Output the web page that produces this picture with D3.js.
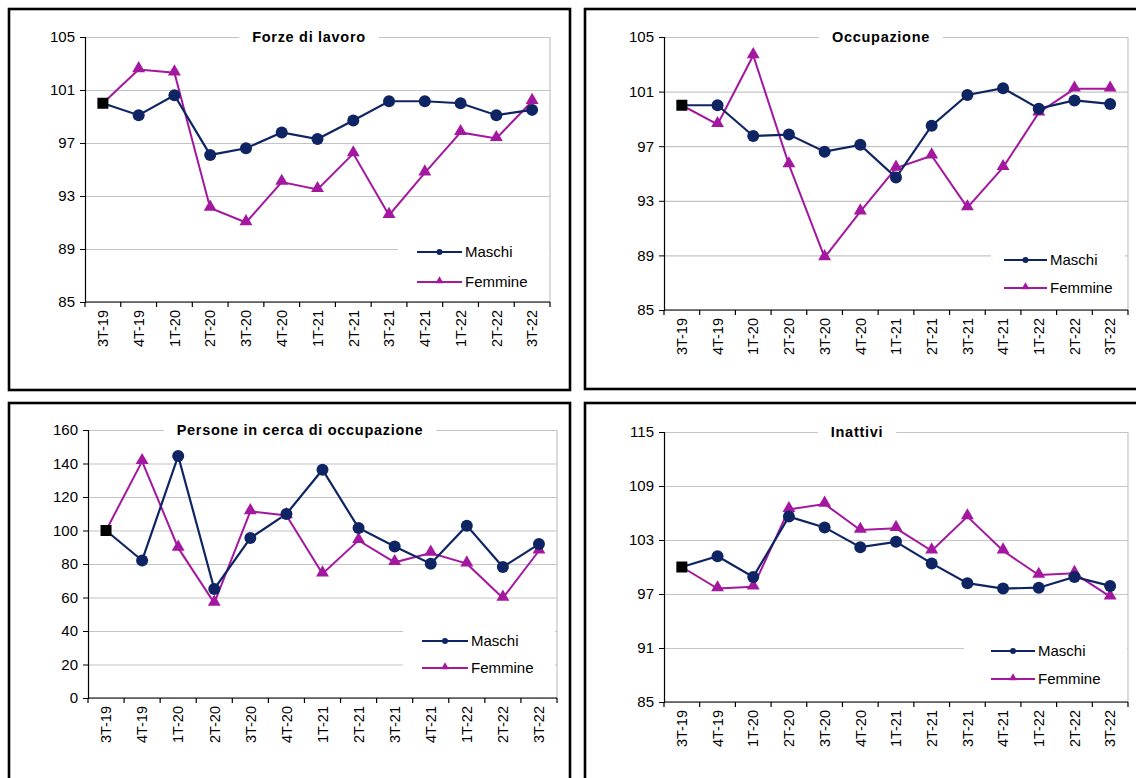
<!DOCTYPE html>
<html lang="it">
<head>
<meta charset="utf-8">
<title>Indici per sesso</title>
<script src="https://cdn.jsdelivr.net/npm/d3@7"></script>
<style>
	body { margin: 0; background: #fff; }
	svg { display: block; font-family: "Liberation Sans", Arial, sans-serif; }
</style>
</head>
<body>
<svg width="1136" height="778"></svg>
<script>
	// trimestri
	var quarters = ["3T-19","4T-19","1T-20","2T-20","3T-20","4T-20","1T-21","2T-21","3T-21","4T-21","1T-22","2T-22","3T-22"];

	// Forze di lavoro
	var forzeMaschi  = [100, 99.1, 100.6, 96.1, 96.6, 97.8, 97.3, 98.7, 100.15, 100.15, 100.0, 99.1, 99.5];
	var forzeFemmine = [100, 102.55, 102.3, 92.1, 91.0, 94.05, 93.5, 96.2, 91.55, 94.75, 97.8, 97.35, 100.15];
	var forzeTicks = [85, 89, 93, 97, 101, 105];

	// Occupazione
	var occMaschi  = [100, 100.0, 97.75, 97.85, 96.6, 97.1, 94.7, 98.5, 100.75, 101.25, 99.75, 100.35, 100.1];
	var occFemmine = [100, 98.6, 103.65, 95.65, 88.85, 92.2, 95.4, 96.3, 92.5, 95.45, 99.45, 101.2, 101.2];
	var occTicks = [85, 89, 93, 97, 101, 105];

	// Persone in cerca di occupazione
	var cercaMaschi  = [100, 82.1, 144.5, 65.1, 95.5, 109.9, 136.3, 101.5, 90.5, 80.2, 102.9, 78.2, 91.9];
	var cercaFemmine = [100, 141.3, 89.6, 56.7, 111.4, 109.0, 74.2, 94.1, 81.0, 86.6, 80.2, 59.7, 87.9];
	var cercaTicks = [0, 20, 40, 60, 80, 100, 120, 140, 160];

	// Inattivi
	var inattMaschi  = [100, 101.2, 98.9, 105.6, 104.4, 102.2, 102.8, 100.4, 98.2, 97.6, 97.7, 98.9, 97.9];
	var inattFemmine = [100, 97.6, 97.8, 106.4, 107.0, 104.1, 104.3, 101.8, 105.6, 101.8, 99.1, 99.3, 96.7];
	var inattTicks = [85, 91, 97, 103, 109, 115];

	var seriesNames = ["Maschi", "Femmine"];
	var colMaschi = "#0f2563", colFemmine = "#a3189f";
	var FONT = "'Liberation Sans', Arial, sans-serif";

	var svg = d3.select("svg");

	var panels = [
		{ title: "Forze di lavoro", m: forzeMaschi, f: forzeFemmine, ticks: forzeTicks,
		  frame: [9, 9, 561, 381], plot: { l: 85, r: 550, t: 37, b: 302 }, tx: 309,
		  leg: { x0: 398, x1: 549, y0: 234, y1: 298, r1: 252, r2: 282, lx0: 417, lx1: 462 } },
		{ title: "Occupazione", m: occMaschi, f: occFemmine, ticks: occTicks,
		  frame: [585, 9, 570, 380], plot: { l: 664, r: 1128, t: 37, b: 310 }, tx: 881,
		  leg: { x0: 991, x1: 1125, y0: 240, y1: 305, r1: 260, r2: 288, lx0: 1004, lx1: 1047 } },
		{ title: "Persone in cerca di occupazione", m: cercaMaschi, f: cercaFemmine, ticks: cercaTicks,
		  frame: [9, 403, 561, 400], plot: { l: 88, r: 557, t: 430, b: 698 }, tx: 300,
		  leg: { x0: 403, x1: 555, y0: 620, y1: 692, r1: 641, r2: 668, lx0: 422, lx1: 468 } },
		{ title: "Inattivi", m: inattMaschi, f: inattFemmine, ticks: inattTicks,
		  frame: [585, 403, 570, 400], plot: { l: 664, r: 1128, t: 432, b: 702 }, tx: 857,
		  leg: { x0: 964, x1: 1127, y0: 632, y1: 698, r1: 651, r2: 679, lx0: 991, lx1: 1035 } }
	];

	panels.forEach(drawPanel);

	function drawPanel(p) {
		var g = svg.append("g");
		var P = p.plot;

		// cornice nera
		g.append("rect")
			.attr("x", p.frame[0]).attr("y", p.frame[1])
			.attr("width", p.frame[2]).attr("height", p.frame[3])
			.attr("fill", "none").attr("stroke", "#000").attr("stroke-width", 2.6);

		var x = d3.scaleBand().domain(quarters).range([P.l, P.r]);
		var y = d3.scaleLinear().domain(d3.extent(p.ticks)).range([P.b, P.t]);

		// griglia
		g.append("g")
			.attr("transform", "translate(" + P.l + ",0)")
			.call(d3.axisLeft(y).tickValues(p.ticks).tickSize(-(P.r - P.l)).tickFormat(""))
			.call(function(s) {
				s.select(".domain").remove();
				s.selectAll("line").attr("stroke", "#c4c4c4").attr("stroke-width", 1.2);
			});
		g.append("line")
			.attr("x1", P.r).attr("x2", P.r).attr("y1", P.t).attr("y2", P.b)
			.attr("stroke", "#c4c4c4").attr("stroke-width", 1.2);

		// asse y
		g.append("g")
			.attr("transform", "translate(" + P.l + ",0)")
			.attr("font-size", 15).attr("font-family", FONT)
			.call(d3.axisLeft(y).tickValues(p.ticks).tickSize(5).tickPadding(5).tickFormat(d3.format("d")))
			.call(function(s) {
				s.attr("font-size", 15).attr("font-family", FONT);
				s.select(".domain").attr("stroke", "#000").attr("stroke-width", 1.2);
				s.selectAll("line").attr("stroke", "#000");
				s.selectAll("text").attr("fill", "#000");
			});

		// asse x: etichette ruotate, tacche ai confini
		var xa = g.append("g")
			.attr("transform", "translate(0," + P.b + ")")
			.call(d3.axisBottom(x).tickSize(0).tickPadding(0))
			.call(function(s) {
				s.attr("font-size", 14.5).attr("font-family", FONT);
				s.select(".domain").remove();
				s.selectAll("text")
					.attr("fill", "#000")
					.attr("text-anchor", "end")
					.attr("transform", "translate(0,8) rotate(-90)")
					.attr("x", 0).attr("y", 0).attr("dy", "0.36em");
			});
		xa.append("line").attr("x1", P.l).attr("x2", P.r).attr("y1", 0).attr("y2", 0)
			.attr("stroke", "#000").attr("stroke-width", 1.2);
		xa.selectAll(".bound")
			.data(quarters.concat([null]))
			.enter().append("line")
			.attr("x1", function(d) { return d === null ? P.r : x(d); })
			.attr("x2", function(d) { return d === null ? P.r : x(d); })
			.attr("y1", 0).attr("y2", 5)
			.attr("stroke", "#000").attr("stroke-width", 1.2);

		var cx = function(d, i) { return x(quarters[i]) + x.bandwidth() / 2; };
		var line = d3.line().x(cx).y(function(d) { return y(d); });

		// Femmine
		g.append("path").attr("d", line(p.f))
			.attr("fill", "none").attr("stroke", colFemmine).attr("stroke-width", 2);
		// Maschi
		g.append("path").attr("d", line(p.m))
			.attr("fill", "none").attr("stroke", colMaschi).attr("stroke-width", 2.2);

		var tri = d3.symbol().type(d3.symbolTriangle).size(72);
		g.selectAll(".tri").data(p.f.slice(1)).enter().append("path")
			.attr("d", tri)
			.attr("transform", function(d, i) { return "translate(" + cx(d, i + 1) + "," + (y(d) - 1) + ")"; })
			.attr("fill", colFemmine);
		g.selectAll(".dot").data(p.m.slice(1)).enter().append("circle")
			.attr("cx", function(d, i) { return cx(d, i + 1); })
			.attr("cy", function(d) { return y(d); })
			.attr("r", 6)
			.attr("fill", colMaschi);

		// base 3T-19 = 100
		g.append("rect")
			.attr("x", cx(p.m[0], 0) - 5.5).attr("y", y(p.m[0]) - 5.5)
			.attr("width", 11).attr("height", 11).attr("fill", "#000");

		// titolo
		var tt = g.append("text")
			.attr("x", p.tx).attr("y", P.t).attr("dy", "0.36em")
			.attr("text-anchor", "middle")
			.attr("font-size", 14.5).attr("font-weight", "bold")
			.attr("letter-spacing", 0.7)
			.text(p.title);
		var tw = tt.node().getComputedTextLength();
		g.insert("rect", function() { return tt.node(); })
			.attr("x", p.tx - tw / 2 - 13).attr("y", P.t - 9)
			.attr("width", tw + 26).attr("height", 18).attr("fill", "#fff");

		// legenda
		var L = p.leg;
		g.append("rect")
			.attr("x", L.x0).attr("y", L.y0)
			.attr("width", L.x1 - L.x0).attr("height", L.y1 - L.y0)
			.attr("fill", "#fff");
		var rows = [
			{ name: seriesNames[0], col: colMaschi, y: L.r1, mk: "c" },
			{ name: seriesNames[1], col: colFemmine, y: L.r2, mk: "t" }
		];
		rows.forEach(function(r) {
			g.append("line")
				.attr("x1", L.lx0).attr("x2", L.lx1).attr("y1", r.y).attr("y2", r.y)
				.attr("stroke", r.col).attr("stroke-width", 2.2);
			if (r.mk === "c") {
				g.append("circle").attr("cx", (L.lx0 + L.lx1) / 2).attr("cy", r.y)
					.attr("r", 3).attr("fill", r.col);
			} else {
				g.append("path").attr("d", d3.symbol().type(d3.symbolTriangle).size(28)())
					.attr("transform", "translate(" + ((L.lx0 + L.lx1) / 2) + "," + (r.y - 1) + ")")
					.attr("fill", r.col);
			}
			g.append("text")
				.attr("x", L.lx1 + 3).attr("y", r.y).attr("dy", "0.36em")
				.attr("font-size", 15).attr("fill", "#000")
				.text(r.name);
		});
	}
</script>
</body>
</html>
